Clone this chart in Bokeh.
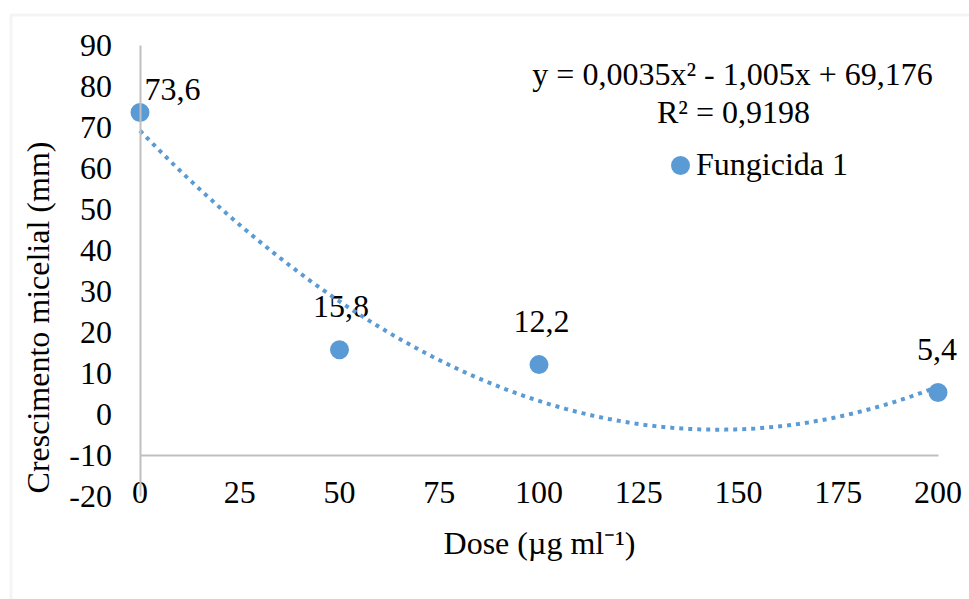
import numpy as np
from bokeh.plotting import figure
from bokeh.models import (Range1d, LinearAxis, FixedTicker, Label, Legend, LegendItem,
                          BoxAnnotation, ColumnDataSource)
from bokeh.embed import file_html
from bokeh.resources import INLINE
from bokeh.core.properties import value

# ---------------- data ----------------
dose = [0, 50, 100, 200]
growth = [73.6, 15.8, 12.2, 5.4]
series_name = "Fungicida 1"
x_ticks = [0, 25, 50, 75, 100, 125, 150, 175, 200]
y_ticks = [-20, -10, 0, 10, 20, 30, 40, 50, 60, 70, 80, 90]
x_axis_cross = -10
equation_text = "y = 0,0035x² - 1,005x + 69,176"
r2_text = "R² = 0,9198"
x_title = "Dose (µg ml⁻¹)"
y_title = "Crescimento micelial (mm)"

# ---------------- layout ----------------
W, H = 969, 599
X0_PX, X_SCALE = 139.5, 3.99     # pixel of x=0, pixels per unit
Y0_PX, Y_SCALE = 414.2, 4.106    # pixel of y=0, pixels per unit
Y_TITLE_CENTER_PX = 317

def ux(px):
    return (px - X0_PX) / X_SCALE

def uy(py):
    return (Y0_PX - py) / Y_SCALE

FONT = "Liberation Serif"
FS = "32px"
BLUE = "#5B9BD5"
AXIS_GRAY = "#BFBFBF"
BORDER_GRAY = "#D9D9D9"

# data-label offsets (screen px) relative to each point
LABEL_DX = [32.5, 1.5, 2.5, -1]
LABEL_DY = [-22.5, -43.5, -43, -43]

p = figure(width=W, height=H,
           x_range=Range1d(ux(0), ux(W)), y_range=Range1d(uy(H), uy(0)),
           output_backend="svg", toolbar_location=None,
           x_axis_type=None, y_axis_type=None, min_border=0)
p.outline_line_color = None
p.background_fill_color = "white"
p.border_fill_color = "white"

# chart-area border (only top/left visible in the crop)
p.add_layout(BoxAnnotation(left=ux(10.5), top=uy(14.5), right=ux(W + 60), bottom=uy(H + 60),
                           fill_alpha=0, line_color=BORDER_GRAY, line_width=3))

# axes
yaxis = LinearAxis(fixed_location=0, bounds=(y_ticks[0], y_ticks[-1]),
                   ticker=FixedTicker(ticks=y_ticks),
                   major_label_overrides={t: str(t) for t in y_ticks})
ytitle_axis = LinearAxis(fixed_location=0,
                         bounds=(uy(Y_TITLE_CENTER_PX) - 40, uy(Y_TITLE_CENTER_PX) + 40),
                         ticker=FixedTicker(ticks=[]), axis_label=y_title)
xaxis = LinearAxis(fixed_location=x_axis_cross, bounds=(x_ticks[0], x_ticks[-1]),
                   ticker=FixedTicker(ticks=x_ticks),
                   major_label_overrides={t: str(t) for t in x_ticks},
                   axis_label=x_title)
for ax in (xaxis, yaxis, ytitle_axis):
    ax.axis_line_color = AXIS_GRAY
    ax.axis_line_width = 2
    ax.major_tick_line_color = None
    ax.minor_tick_line_color = None
    ax.major_tick_in = 0
    ax.major_tick_out = 0
    ax.major_label_text_font = FONT
    ax.major_label_text_font_size = FS
    ax.major_label_text_color = "black"
    ax.axis_label_text_font = FONT
    ax.axis_label_text_font_size = FS
    ax.axis_label_text_font_style = "normal"
    ax.axis_label_text_color = "black"
ytitle_axis.axis_line_color = None
ytitle_axis.major_label_standoff = 0
ytitle_axis.axis_label_standoff = 85
yaxis.major_label_standoff = 28
xaxis.major_label_standoff = 26
xaxis.axis_label_standoff = 19
p.add_layout(yaxis, "left")
p.add_layout(ytitle_axis, "left")
p.add_layout(xaxis, "below")

src = ColumnDataSource(dict(
    x=dose, y=growth,
    label=[f"{v:.1f}".replace(".", ",") for v in growth],
    dx=LABEL_DX, dy=LABEL_DY,
))

# data labels
p.text(x="x", y="y", text="label", source=src, x_offset="dx", y_offset="dy",
       text_align="center", text_baseline="middle",
       text_font=value(FONT), text_font_size=FS, text_color="black")

# polynomial (order 2) trendline fitted to the data
coef = np.polyfit(dose, growth, 2)
xs = np.linspace(min(dose), max(dose), 241)
p.line(xs, np.polyval(coef, xs), line_color=BLUE, line_width=4, line_dash="4 5")

# markers: small core + thick outline -> ~19 px discs (same look in the legend)
pts = p.scatter(x="x", y="y", source=src, size=8, fill_color=BLUE,
                line_color=BLUE, line_width=11)

# trendline equation
p.add_layout(Label(x=ux(732), y=uy(73.5), text=equation_text, text_align="center",
                   text_baseline="middle", text_font=FONT, text_font_size=FS,
                   text_color="black"))
p.add_layout(Label(x=ux(733), y=uy(111.7), text=r2_text, text_align="center",
                   text_baseline="middle", text_font=FONT, text_font_size=FS,
                   text_color="black"))

legend = Legend(items=[LegendItem(label=series_name, renderers=[pts])],
                location=(670, H - 183), glyph_width=20, glyph_height=20,
                label_standoff=6, padding=0, margin=0, spacing=0,
                border_line_color=None, background_fill_alpha=0,
                label_text_font=FONT, label_text_font_size=FS, label_text_color="black")
p.add_layout(legend)

open("out.html", "w").write(file_html(p, INLINE))
